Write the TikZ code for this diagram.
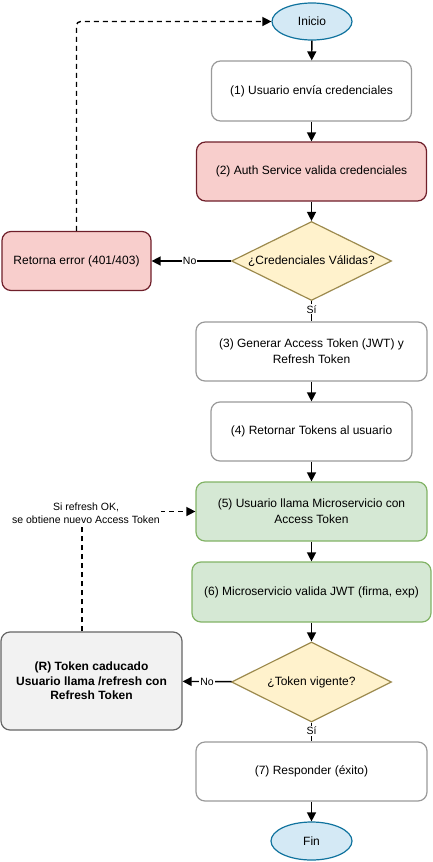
\documentclass[tikz,border=0pt]{standalone}
\usepackage{fontspec}
\setmainfont{Liberation Sans}
\usetikzlibrary{arrows.meta,shapes.geometric}
\definecolor{redfill}{HTML}{F8CECC}
\definecolor{redline}{HTML}{6F1F2A}
\definecolor{greenfill}{HTML}{D5E8D4}
\definecolor{greenline}{HTML}{82B366}
\definecolor{bluefill}{HTML}{D4E9F5}
\definecolor{blueline}{HTML}{10739E}
\definecolor{yelfill}{HTML}{FFF2CC}
\definecolor{yelline}{HTML}{9C8A4E}
\definecolor{greyfill}{HTML}{F2F2F2}
\definecolor{greyline}{HTML}{666666}
\definecolor{whiteline}{HTML}{9A9A9A}
\begin{document}
\begin{tikzpicture}[x=1pt,y=-1pt,
  base/.style={rounded corners=9pt, line width=1.2pt, inner sep=0pt, align=center,
    font=\fontsize{12}{16}\selectfont},
  whitebox/.style={base, draw=whiteline, fill=white},
  redbox/.style={base, draw=redline, fill=redfill},
  greenbox/.style={base, draw=greenline, fill=greenfill},
  greybox/.style={base, draw=greyline, fill=greyfill, font=\bfseries\fontsize{12}{14.5}\selectfont},
  term/.style={ellipse, line width=1.2pt, draw=blueline, fill=bluefill, inner sep=0pt,
    minimum width=80pt, minimum height=37pt, font=\fontsize{12}{14}\selectfont},
  decision/.style={diamond, aspect=2, line width=1.2pt, draw=yelline, fill=yelfill, inner sep=0pt,
    minimum width=160pt, minimum height=79pt, font=\fontsize{12}{14}\selectfont},
  flow/.style={line width=1.4pt, -{Triangle[length=9pt,width=9pt]}},
  plain/.style={line width=1.4pt},
  dashflow/.style={flow, dash pattern=on 5pt off 4pt},
  lbl/.style={fill=white, inner sep=1pt, font=\fontsize{10.5}{13.5}\selectfont, align=center},
]
\useasboundingbox (0,0) rectangle (432,862);

\node[term] (ini) at (312,21.5) {Inicio};
\node[whitebox, minimum width=200pt, minimum height=60pt] (b1) at (311.5,91) {(1) Usuario envía credenciales};
\node[redbox, minimum width=230pt, minimum height=59pt] (b2) at (311.5,171.5) {(2) Auth Service valida credenciales};
\node[decision] (d1) at (311.5,261) {¿Credenciales Válidas?};
\node[redbox, minimum width=149pt, minimum height=59pt] (err) at (76.5,261) {Retorna error (401/403)};
\node[whitebox, minimum width=231pt, minimum height=59pt] (b3) at (311.5,351.5) {(3) Generar Access Token (JWT) y\\Refresh Token};
\node[whitebox, minimum width=201pt, minimum height=59pt] (b4) at (311.5,431.5) {(4) Retornar Tokens al usuario};
\node[greenbox, minimum width=231pt, minimum height=59pt] (b5) at (311.5,511.5) {(5) Usuario llama Microservicio con\\Access Token};
\node[greenbox, minimum width=239pt, minimum height=60pt] (b6) at (311.5,592) {(6) Microservicio valida JWT (firma, exp)};
\node[decision, minimum height=80pt] (d2) at (311.5,682) {¿Token vigente?};
\node[greybox, minimum width=181pt, minimum height=98pt] (r) at (91.5,681) {(R) Token caducado\\Usuario llama /refresh con\\Refresh Token};
\node[whitebox, minimum width=231pt, minimum height=59pt] (b7) at (311.5,771.5) {(7) Responder (éxito)};
\node[term, minimum width=81pt, minimum height=38pt] (fin) at (311.5,841) {Fin};

\draw[flow] (ini) -- (b1);
\draw[flow] (b1) -- (b2);
\draw[flow] (b2) -- (d1);
\draw[flow] (d1) -- node[lbl, pos=0.52] {No} (err);
\draw[dashflow, rounded corners=4pt] (err.north) |- (ini.west);
\draw[plain] (d1) -- node[lbl, pos=0.4] {Sí} (b3);
\draw[flow] (b3) -- (b4);
\draw[flow] (b4) -- (b5);
\draw[flow] (b5) -- (b6);
\draw[flow] (b6) -- (d2);
\draw[flow] (d2) -- node[lbl, pos=0.5] {No} (r);
\draw[dashflow] ([xshift=-9.5pt]r.north) |- node[lbl, pos=0.5, xshift=4pt, yshift=-1.5pt] {Si refresh OK,\\se obtiene nuevo Access Token} (b5.west);
\draw[plain] (d2) -- node[lbl, pos=0.45] {Sí} (b7);
\draw[flow] (b7) -- (fin);
\end{tikzpicture}
\end{document}
